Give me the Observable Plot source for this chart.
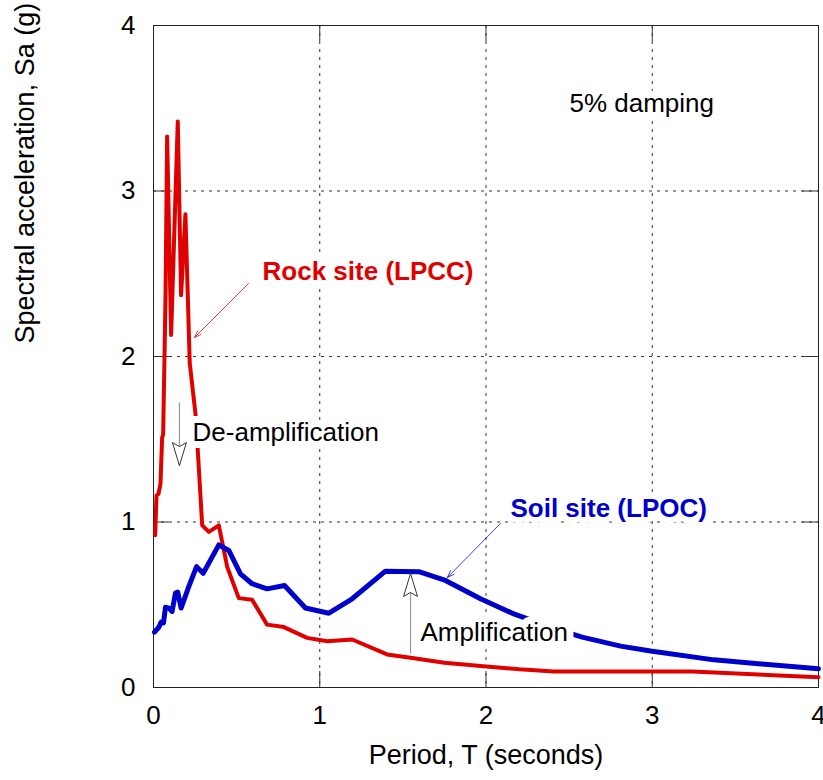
<!DOCTYPE html>
<html><head><meta charset="utf-8">
<script src="https://cdn.jsdelivr.net/npm/d3@7"></script>
<script src="https://cdn.jsdelivr.net/npm/@observablehq/plot@0.6"></script>
<style>body{margin:0;background:#fff}</style>
</head><body><div id="chart"></div>
<script>
// Rock site (LPCC) spectrum
const rockT  = [0.01,0.018,0.03,0.042,0.052,0.058,0.072,0.082,0.106,0.146,0.166,0.192,0.218,0.253,0.267,0.293,0.333,0.393,0.443,0.513,0.593,0.683,0.784,0.924,1.045,1.195,1.405,1.546,1.75,1.967,2.2,2.41,2.81,3.24,4.0];
const rockSa = [0.92,1.16,1.17,1.23,1.51,1.53,2.34,3.33,2.13,3.42,2.37,2.86,1.96,1.65,1.42,0.98,0.94,0.98,0.73,0.54,0.53,0.38,0.365,0.30,0.28,0.29,0.20,0.18,0.15,0.13,0.11,0.097,0.097,0.097,0.062];
// Soil site (LPOC) spectrum
const soilT  = [0.006,0.032,0.046,0.06,0.072,0.092,0.112,0.132,0.146,0.166,0.212,0.259,0.299,0.393,0.453,0.523,0.593,0.683,0.788,0.914,1.055,1.195,1.395,1.596,1.756,1.967,2.167,2.4,2.578,2.81,2.99,3.37,4.0];
const soilSa = [0.334,0.364,0.395,0.39,0.485,0.48,0.46,0.57,0.576,0.48,0.61,0.73,0.69,0.862,0.828,0.687,0.627,0.596,0.616,0.48,0.449,0.536,0.703,0.700,0.647,0.536,0.445,0.36,0.304,0.25,0.22,0.167,0.113];

const xTicks = [0,1,2,3,4];
const yTicks = [0,1,2,3,4];
const gridTicks = [1,2,3];

const xLabel = "Period, T (seconds)";
const yLabel = "Spectral acceleration, Sa (g)";

// plain annotation texts
const noteText = ["5% damping","Amplification","De-amplification"];
const noteT    = [2.502,1.606,0.235];
const noteSa   = [3.53,0.332,1.54];
// bold series labels
const seriesText  = ["Rock site (LPCC)","Soil site (LPOC)"];
const seriesT     = [0.656,2.147];
const seriesSa    = [2.51,1.08];
const seriesColor = ["#e00000","#0000cc"];

// pointer arrows (label -> curve)
const ptrT1 = [0.571,2.087], ptrSa1 = [2.441,0.991];
const ptrT2 = [0.247,1.768], ptrSa2 = [2.115,0.665];

// open arrows (de-amplification down, amplification up)
const openT = [0.156,1.546];
const openFrom = [1.722,0.205];
const openTo = [1.341,0.689];
const openDir = ["down","up"];

const rock = rockT.map((t,i)=>({T:t,Sa:rockSa[i]}));
const soil = soilT.map((t,i)=>({T:t,Sa:soilSa[i]}));
const notes = noteText.map((s,i)=>({s,T:noteT[i],Sa:noteSa[i]}));
const series = seriesText.map((s,i)=>({s,T:seriesT[i],Sa:seriesSa[i],c:seriesColor[i]}));
const ptrs = ptrT1.map((t,i)=>({x1:t,y1:ptrSa1[i],x2:ptrT2[i],y2:ptrSa2[i],c:seriesColor[i]}));
const opens = openT.map((t,i)=>({T:t,from:openFrom[i],to:openTo[i],dir:openDir[i]}));

const headDown = {draw(ctx){ctx.moveTo(0,0);ctx.lineTo(-7,-23);ctx.lineTo(0,-19);ctx.lineTo(7,-23);ctx.closePath();}};
const headUp = {draw(ctx){ctx.moveTo(0,0);ctx.lineTo(-7,23);ctx.lineTo(0,19);ctx.lineTo(7,23);ctx.closePath();}};

const chart = Plot.plot({
  width: 823, height: 780,
  marginLeft: 153, marginRight: 5, marginTop: 25, marginBottom: 93,
  style: {fontFamily: "'Liberation Sans', Arial, sans-serif", fontSize: "26px", background: "#fff", color: "#000", overflow: "visible"},
  x: {domain: [0,4]},
  y: {domain: [0,4]},
  marks: [
    Plot.gridX(gridTicks, {stroke: "#333", strokeOpacity: 1, strokeDasharray: "3,5"}),
    Plot.gridY(gridTicks, {stroke: "#333", strokeOpacity: 1, strokeDasharray: "3,5"}),
    Plot.ruleX(gridTicks, {stroke: "#333", insetTop: 646}),
    Plot.ruleX(gridTicks, {stroke: "#333", insetBottom: 646}),
    Plot.ruleY(gridTicks, {stroke: "#333", insetRight: 649}),
    Plot.ruleY(gridTicks, {stroke: "#333", insetLeft: 649}),
    Plot.frame({stroke: "#222"}),
    Plot.axisX(xTicks, {anchor: "bottom", tickSize: 0, tickPadding: 18, label: null, fontSize: 26, tickFormat: "d"}),
    Plot.axisY(yTicks, {anchor: "left", tickSize: 0, tickPadding: 18, label: null, fontSize: 26, tickFormat: "d"}),
    Plot.line(rock, {x: "T", y: "Sa", stroke: "#e00000", strokeWidth: 4, strokeLinejoin: "round"}),
    Plot.line(soil, {x: "T", y: "Sa", stroke: "#0000cc", strokeWidth: 5, strokeLinejoin: "round"}),
    Plot.text(notes, {x: "T", y: "Sa", text: "s", fill: "#000", textAnchor: "start", fontSize: 26, stroke: "#fff", strokeWidth: 14, strokeLinejoin: "round"}),
    Plot.text(series, {x: "T", y: "Sa", text: "s", fill: "c", fontWeight: "bold", textAnchor: "start", fontSize: 26, stroke: "#fff", strokeWidth: 12, strokeLinejoin: "round"}),
    Plot.arrow(ptrs, {x1: "x1", y1: "y1", x2: "x2", y2: "y2", stroke: "c", strokeWidth: 1, strokeOpacity: 0.75, headLength: 11, headAngle: 40}),
    Plot.link(opens, {x1: "T", x2: "T", y1: "from", y2: "to", stroke: "#999", strokeWidth: 1.2}),
    Plot.dot(opens.filter(d=>d.dir==="down"), {x: "T", y: "to", symbol: headDown, fill: "#fff", stroke: "#333", strokeWidth: 1}),
    Plot.dot(opens.filter(d=>d.dir==="up"), {x: "T", y: "to", symbol: headUp, fill: "#fff", stroke: "#333", strokeWidth: 1}),
    Plot.text([xLabel], {frameAnchor: "bottom", dy: 76, fontSize: 27}),
    Plot.text([yLabel], {frameAnchor: "left", dx: -128, dy: -13, rotate: -90, fontSize: 27})
  ]
});
document.getElementById("chart").appendChild(chart);
</script>
</body></html>
